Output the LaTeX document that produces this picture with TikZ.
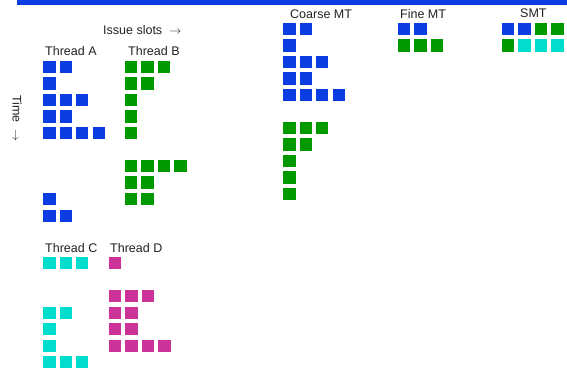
\documentclass[tikz,border=0pt]{standalone}
\usepackage{fontspec}
\setmainfont{Liberation Sans}
\definecolor{tblue}{HTML}{0B3DE3}
\definecolor{tgreen}{HTML}{009900}
\definecolor{tcyan}{HTML}{00DDCC}
\definecolor{tmag}{HTML}{CC3399}
\definecolor{ttext}{HTML}{222222}
\newcommand\slotrow[4]{\foreach \i in {1,...,#4}{\fill[#1] ({#2+16.4*(\i-1)},{#3}) rectangle ++(12.3,12.3);}}
\newcommand\rarr{\hspace{7pt}$\rightarrow$}
\begin{document}
\begin{tikzpicture}[x=1pt,y=-1pt,
  lbl/.style={inner sep=0pt,anchor=west,text=ttext,font=\fontsize{12.5}{15}\selectfont}]
\useasboundingbox (0,0) rectangle (567,374);
\fill[tblue] (17,0) rectangle (567,4.7);
% labels
\node[lbl] (issue) at (103,30) {Issue slots\rarr};
\node[lbl,rotate=-90,anchor=west] (time) at (17,95) {Time\rarr};
\node[lbl] (ta) at (45,51) {Thread A};
\node[lbl] (tb) at (128,51) {Thread B};
\node[lbl] (tc) at (45,248) {Thread C};
\node[lbl] (td) at (110,248) {Thread D};
\node[lbl] (coarse) at (290,14) {Coarse MT};
\node[lbl] (fine) at (400,14) {Fine MT};
\node[lbl] (smt) at (520,13) {SMT};
% Thread A
\foreach \r/\n in {0/2,1/1,2/3,3/2,4/4,8/1,9/2}{\slotrow{tblue}{43.3}{61+16.5*\r}{\n}}
% Thread B
\foreach \r/\n in {0/3,1/2,2/1,3/1,4/1,6/4,7/2,8/2}{\slotrow{tgreen}{125}{61+16.5*\r}{\n}}
% Thread C
\foreach \r/\n in {0/3,3/2,4/1,5/1,6/3}{\slotrow{tcyan}{43.3}{257+16.5*\r}{\n}}
% Thread D
\foreach \r/\n in {0/1,2/3,3/2,4/2,5/4}{\slotrow{tmag}{109}{257+16.5*\r}{\n}}
% Coarse MT
\foreach \r/\n in {0/2,1/1,2/3,3/2,4/4}{\slotrow{tblue}{283.3}{23+16.5*\r}{\n}}
\foreach \r/\n in {6/3,7/2,8/1,9/1,10/1}{\slotrow{tgreen}{283.3}{23+16.5*\r}{\n}}
% Fine MT
\slotrow{tblue}{398}{23}{2}
\slotrow{tgreen}{398}{39.5}{3}
% SMT
\foreach \c [count=\k from 0] in {tblue,tblue,tgreen,tgreen}{\fill[\c] ({502+16.4*\k},23) rectangle ++(12.3,12.3);}
\foreach \c [count=\k from 0] in {tgreen,tcyan,tcyan,tcyan}{\fill[\c] ({502+16.4*\k},39.5) rectangle ++(12.3,12.3);}
\end{tikzpicture}
\end{document}
